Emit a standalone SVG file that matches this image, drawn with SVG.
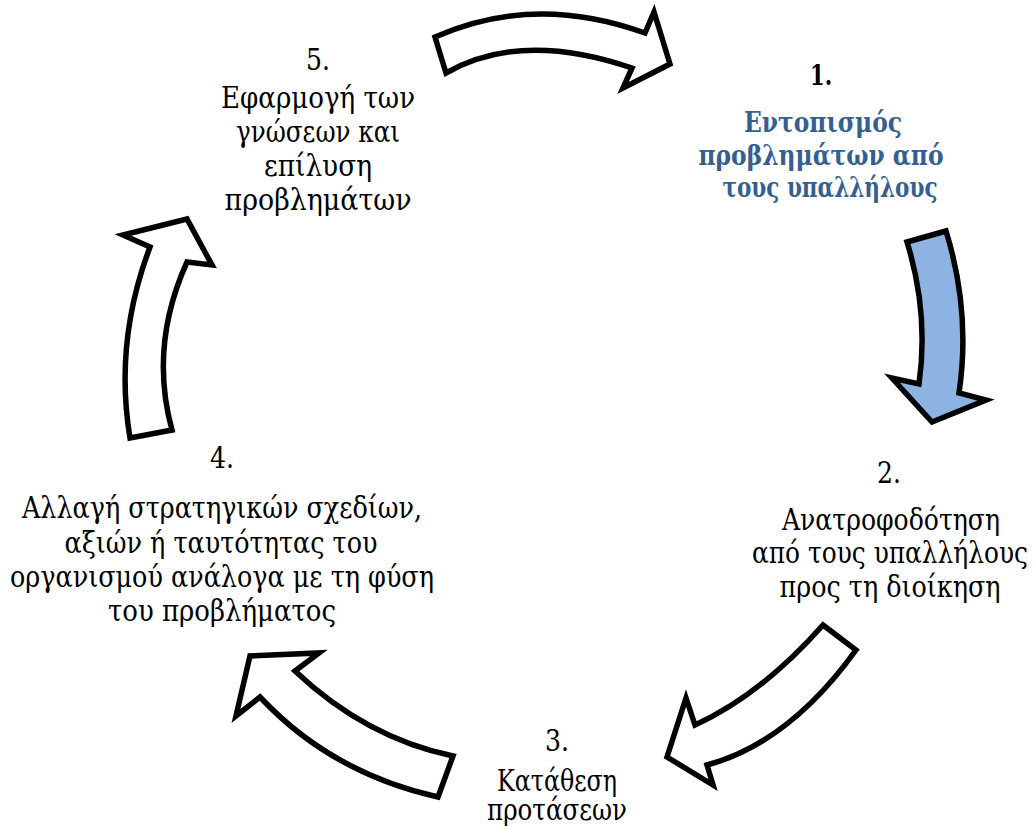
<svg xmlns="http://www.w3.org/2000/svg" width="1033" height="829" viewBox="0 0 1033 829">
<style>
.arr{fill:#ffffff;stroke:#000000;stroke-width:5.5;stroke-linejoin:miter;stroke-miterlimit:6}
.blue{fill:#8DB3E2}
text{font-family:'DejaVu Serif','Liberation Serif',serif;font-size:30px;fill:#000000;text-anchor:middle}
.b{font-weight:bold;font-size:28px}
.bl{fill:#365F91;font-weight:bold;font-size:28px}
.s{font-size:28px}
</style>
<rect width="1033" height="829" fill="#ffffff"/>
<g id="connectors">
<path id="arrow-5-1" class="arr" d="M435,37 Q534,-7 645,33 L654,12 L670,64 L623,88 L632,68 Q521,30 446,73 Z"/>
<path id="arrow-1-2" class="arr blue" d="M907,242 L946,231 Q971,312 959,393 L986,400 L932,422 L892,378 L919,384 Q929,313 907,242 Z"/>
<path id="arrow-2-3" class="arr" d="M823,625 L856,650 Q789,743 707,765 L713,785 L667,757 L686,698 L695,725 Q761,695 823,625 Z"/>
<path id="arrow-3-4" class="arr" d="M295,671 L319,653 L250,656 L236,716 L260,697 Q331,773 438,797 L453,756 Q366,738 295,671 Z"/>
<path id="arrow-4-5" class="arr" d="M130,438 Q114,342 150,247 L123,235 L187,219 L212,265 L187,262 Q149,346 172,430 Z"/>
</g>
<g id="node-1">
<text class="b" x="821" y="85" textLength="22" lengthAdjust="spacingAndGlyphs">1.</text>
<text class="bl" x="823" y="132" textLength="158" lengthAdjust="spacingAndGlyphs">Εντοπισμός</text>
<text class="bl" x="821" y="165" textLength="245" lengthAdjust="spacingAndGlyphs">προβλημάτων από</text>
<text class="bl" x="830" y="197" textLength="215" lengthAdjust="spacingAndGlyphs">τους υπαλλήλους</text>
</g>
<g id="node-2">
<text x="889" y="483" textLength="24" lengthAdjust="spacingAndGlyphs">2.</text>
<text x="891" y="530" textLength="218" lengthAdjust="spacingAndGlyphs">Ανατροφοδότηση</text>
<text x="890" y="563" textLength="276" lengthAdjust="spacingAndGlyphs">από τους υπαλλήλους</text>
<text x="890" y="597" textLength="221" lengthAdjust="spacingAndGlyphs">προς τη διοίκηση</text>
</g>
<g id="node-3">
<text x="557" y="751" textLength="24" lengthAdjust="spacingAndGlyphs">3.</text>
<text x="557" y="791" textLength="120" lengthAdjust="spacingAndGlyphs">Κατάθεση</text>
<text x="557" y="820" textLength="140" lengthAdjust="spacingAndGlyphs">προτάσεων</text>
</g>
<g id="node-4">
<text x="222" y="468" textLength="24" lengthAdjust="spacingAndGlyphs">4.</text>
<text x="222" y="518" textLength="400" lengthAdjust="spacingAndGlyphs">Αλλαγή στρατηγικών σχεδίων,</text>
<text x="221" y="553" textLength="313" lengthAdjust="spacingAndGlyphs">αξιών ή ταυτότητας του</text>
<text x="222" y="587" textLength="424" lengthAdjust="spacingAndGlyphs">οργανισμού ανάλογα με τη φύση</text>
<text x="222" y="621" textLength="228" lengthAdjust="spacingAndGlyphs">του προβλήματος</text>
</g>
<g id="node-5">
<text x="318" y="70" textLength="24" lengthAdjust="spacingAndGlyphs">5.</text>
<text x="318" y="108" textLength="194" lengthAdjust="spacingAndGlyphs">Εφαρμογή των</text>
<text x="318" y="142" textLength="164" lengthAdjust="spacingAndGlyphs">γνώσεων και</text>
<text x="318" y="176" textLength="108" lengthAdjust="spacingAndGlyphs">επίλυση</text>
<text x="318" y="210" textLength="187" lengthAdjust="spacingAndGlyphs">προβλημάτων</text>
</g>
</svg>
